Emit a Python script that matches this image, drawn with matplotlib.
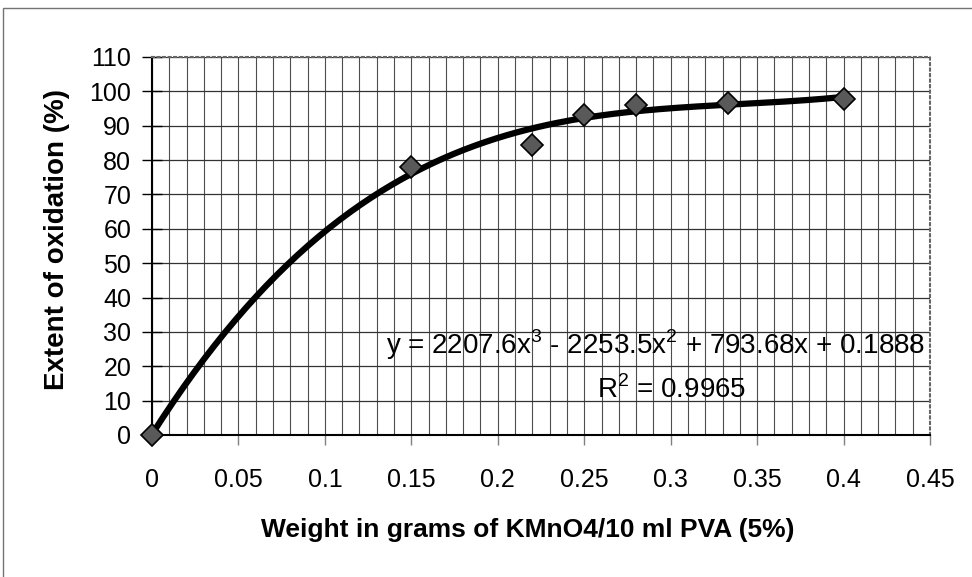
import numpy as np
import matplotlib.pyplot as plt
from matplotlib.patches import Rectangle

# measured points (weight g, % oxidation)
weight = [0.0, 0.15, 0.22, 0.25, 0.28, 0.333, 0.40]
oxidation = [0.0, 78.0, 84.5, 93.0, 96.0, 96.5, 97.8]

# cubic trendline coefficients as printed on the chart
coeffs = [2207.6, -2253.5, 793.68, 0.1888]
eq_text = "y = 2207.6x$^3$ - 2253.5x$^2$ + 793.68x + 0.1888"
r2_text = "R$^2$ = 0.9965"

xticks = [0, 0.05, 0.1, 0.15, 0.2, 0.25, 0.3, 0.35, 0.4, 0.45]
xlabels = ["0", "0.05", "0.1", "0.15", "0.2", "0.25", "0.3", "0.35", "0.4", "0.45"]
yticks = list(range(0, 111, 10))

plt.rcParams['font.family'] = ['Liberation Sans', 'DejaVu Sans']
plt.rcParams['mathtext.fontset'] = 'custom'
plt.rcParams['mathtext.rm'] = 'Liberation Sans'

W, H = 972, 577
fig = plt.figure(figsize=(W / 100, H / 100), dpi=100)
ax = fig.add_axes([152 / W, 1 - 435 / H, (930 - 152) / W, (435 - 57) / H])

# outer chart border (scan edge)
fig.patches.append(Rectangle((3 / W, -0.1), 1.2, 1 - 8 / H + 0.1,
                             transform=fig.transFigure, fill=False,
                             edgecolor='0.45', linewidth=1.0))

# dense grid like the scanned sheet
for xv in np.arange(0, 0.4501, 0.01):
    ax.axvline(xv, color='0.3', linewidth=0.8, zorder=1)
for yv in yticks:
    ax.axhline(yv, color='0.2', linewidth=0.9, zorder=1)

xs = np.linspace(0, 0.4, 200)
ax.plot(xs, np.polyval(coeffs, xs), color='black', linewidth=4.5, zorder=3,
        solid_capstyle='round')
ax.plot(weight, oxidation, linestyle='none', marker='D', markersize=11,
        markerfacecolor='0.35', markeredgecolor='black', markeredgewidth=1.2,
        zorder=4, clip_on=False)

ax.set_xlim(0, 0.45)
ax.set_ylim(0, 110)
ax.set_xticks(xticks)
ax.set_xticklabels(xlabels)
ax.set_yticks(yticks)
ax.tick_params(axis='both', labelsize=18, colors='black', width=1)
ax.tick_params(axis='y', direction='inout', length=14, pad=8)
ax.tick_params(axis='x', direction='out', length=7, pad=17, color='0.5')

for s in ['top', 'right']:
    ax.spines[s].set_color('0.4')
    ax.spines[s].set_linestyle(':')
    ax.spines[s].set_linewidth(1.5)
ax.spines['left'].set_linewidth(1.5)
ax.spines['bottom'].set_linewidth(1.5)
ax.spines['bottom'].set_linestyle((0, (2, 1)))

fig.text(57 / W, 1 - 240 / H, "Extent of oxidation (%)", fontsize=20,
         fontweight='bold', rotation=90, ha='center', va='center')
fig.text(528 / W, 1 - 530 / H, "Weight in grams of KMnO4/10 ml PVA (5%)",
         fontsize=19, fontweight='bold', ha='center', va='center')

ax.text(0.2915, 26.2, eq_text, fontsize=20, ha='center', va='center', zorder=5)
ax.text(0.3008, 13.3, r2_text, fontsize=20, ha='center', va='center', zorder=5)

fig.savefig('out.png', dpi=100)
